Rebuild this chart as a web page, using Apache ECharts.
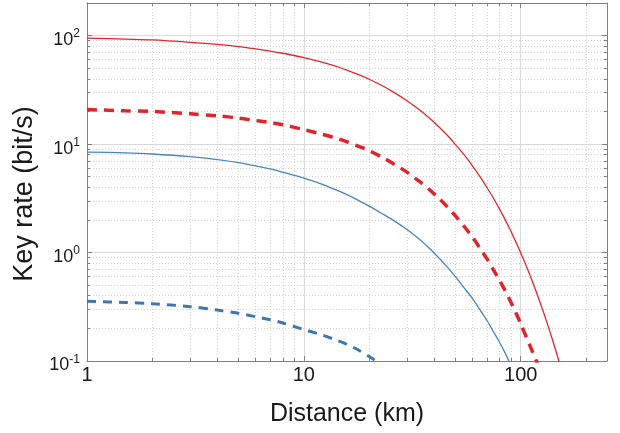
<!DOCTYPE html>
<html><head><meta charset="utf-8">
<script src="https://cdn.jsdelivr.net/npm/echarts@6/dist/echarts.min.js"></script>
<style>html,body{margin:0;padding:0;background:#fff}#c{width:620px;height:433px}</style>
</head><body><div id="c"></div>
<script>
// ---- data ----
const distances = [1, 1.5, 2, 3, 4, 5, 6, 7, 8, 10, 12, 14, 16, 18, 20, 23, 26, 30, 34, 38, 42, 46, 50, 55, 60, 65, 70, 75, 80, 85, 90, 95, 100, 110, 120, 130, 140, 150, 160];
const redSolidY  = [95, 92.8, 91.3, 86.8, 83, 79.3, 75.5, 72.1, 68.8, 62.8, 57.3, 52.3, 47.6, 43.4, 39.6, 34.5, 30, 25, 20.8, 17.3, 14.4, 12, 9.9, 7.9, 6.28, 4.99, 3.96, 3.15, 2.5, 1.99, 1.58, 1.25, 0.995, 0.628, 0.396, 0.25, 0.158, 0.1, 0.063];
const redDashY   = [20.8, 20.3, 20, 19, 18.2, 17.4, 16.5, 15.8, 15.1, 13.6, 12.4, 11.4, 10.4, 9.5, 8.7, 7.55, 6.57, 5.48, 4.55, 3.79, 3.15, 2.62, 2.18, 1.73, 1.38, 1.09, 0.87, 0.69, 0.55, 0.44, 0.35, 0.278, 0.22, 0.14, 0.092, 0.058, null, null, null];
const blueSolidY = [8.45, 8.3, 8.1, 7.65, 7.2, 6.75, 6.3, 5.9, 5.5, 4.85, 4.3, 3.8, 3.38, 3.0, 2.68, 2.28, 1.97, 1.62, 1.33, 1.09, 0.89, 0.73, 0.6, 0.47, 0.375, 0.295, 0.235, 0.185, 0.148, 0.117, 0.092, 0.072, null, null, null, null, null, null, null];
const blueDashY  = [0.355, 0.347, 0.338, 0.317, 0.295, 0.275, 0.256, 0.24, 0.224, 0.195, 0.175, 0.157, 0.141, 0.125, 0.11, 0.092, 0.078, null, null, null, null, null, null, null, null, null, null, null, null, null, null, null, null, null, null, null, null, null, null];

const xTickLabels = ['1', '10', '100'];          // exponents 0,1,2
const yTickBase = '10';
const yTickExponents = ['-1', '0', '1', '2'];    // exponents -1..2
const xMinorValues = [2,3,4,5,6,7,8,9,20,30,40,50,60,70,80,90,200];
const yMinorValues = [0.2,0.3,0.4,0.5,0.6,0.7,0.8,0.9,2,3,4,5,6,7,8,9,20,30,40,50,60,70,80,90];

const xName = 'Distance (km)';
const yName = 'Key rate (bit/s)';

// ---- rendering ----
const FONT = '"Liberation Sans", Arial, Helvetica, sans-serif';
const AXIS_COLOR = '#7f7f7f';
const TEXT_COLOR = '#1a1a1a';
const X_MIN = 1, X_MAX = 250, Y_MIN = 0.1, Y_MAX = 200;

function zip(xs, ys) { const out = []; xs.forEach((x, i) => { if (ys[i] != null) out.push([x, ys[i]]); }); return out; }
function pow10Exp(v) { const e = Math.log10(v); return Math.abs(e - Math.round(e)) < 1e-6 ? Math.round(e) : null; }

// minor tick length expressed as a ratio along the log scales (about 3px)
const KY = Math.pow(10, 3 / 109), KX = Math.pow(10, 3 / 217);
const minorGrid = [];
xMinorValues.forEach(v => minorGrid.push([{coord: [v, Y_MIN]}, {coord: [v, Y_MAX]}]));
yMinorValues.forEach(v => minorGrid.push([{coord: [X_MIN, v]}, {coord: [X_MAX, v]}]));
const minorTicks = [];
xMinorValues.forEach(v => {
  minorTicks.push([{coord: [v, Y_MIN]}, {coord: [v, Y_MIN * KY]}]);
  minorTicks.push([{coord: [v, Y_MAX]}, {coord: [v, Y_MAX / KY]}]);
});
yMinorValues.forEach(v => {
  minorTicks.push([{coord: [X_MIN, v]}, {coord: [X_MIN * KX, v]}]);
  minorTicks.push([{coord: [X_MAX, v]}, {coord: [X_MAX / KX, v]}]);
});

const axisLine = {show: true, lineStyle: {color: AXIS_COLOR, width: 1}};
const axisTick = {show: true, inside: true, length: 5, lineStyle: {color: AXIS_COLOR, width: 1}};

const chart = echarts.init(document.getElementById('c'), null, {renderer: 'canvas'});
chart.setOption({
  animation: false,
  backgroundColor: '#ffffff',
  grid: {left: 87, right: 13, top: 3, bottom: 72, containLabel: false, outerBoundsMode: 'none'},
  xAxis: [
    {
      type: 'log', logBase: 10, min: X_MIN, max: X_MAX, position: 'bottom',
      name: xName, nameLocation: 'middle', nameGap: 41,
      nameTextStyle: {fontSize: 25, color: TEXT_COLOR, fontFamily: FONT},
      axisLine, axisTick,
      axisLabel: {
        fontSize: 20, color: TEXT_COLOR, fontFamily: FONT, margin: 4,
        showMinLabel: true, showMaxLabel: true, hideOverlap: false,
        formatter: v => { const e = pow10Exp(v); return e === null ? '' : xTickLabels[e]; }
      },
      splitLine: {show: true, lineStyle: {color: '#dadada', width: 1}}
    },
    {
      type: 'log', logBase: 10, min: X_MIN, max: X_MAX, position: 'top',
      axisLine, axisTick, axisLabel: {show: false}, splitLine: {show: false}
    }
  ],
  yAxis: [
    {
      type: 'log', logBase: 10, min: Y_MIN, max: Y_MAX, position: 'left',
      name: yName, nameLocation: 'middle', nameGap: 48, nameRotate: 90,
      nameTextStyle: {fontSize: 27, color: TEXT_COLOR, fontFamily: FONT, padding: [0, 24, 0, 0]},
      axisLine, axisTick,
      axisLabel: {
        margin: 7, showMinLabel: true, showMaxLabel: true, hideOverlap: false, padding: [6, 0, 0, 0],
        formatter: v => { const e = pow10Exp(v); return e === null ? '' : '{b|' + yTickBase + '}{s|' + yTickExponents[e + 1] + '}'; },
        rich: {
          b: {fontSize: 18, color: TEXT_COLOR, fontFamily: FONT, lineHeight: 21, verticalAlign: 'bottom'},
          s: {fontSize: 12, color: TEXT_COLOR, fontFamily: FONT, lineHeight: 12, verticalAlign: 'top'}
        }
      },
      splitLine: {show: true, lineStyle: {color: '#dadada', width: 1}}
    },
    {
      type: 'log', logBase: 10, min: Y_MIN, max: Y_MAX, position: 'right',
      axisLine, axisTick, axisLabel: {show: false}, splitLine: {show: false}
    }
  ],
  series: [
    {
      name: 'grid', type: 'line', data: [], xAxisIndex: 0, yAxisIndex: 0, silent: true, z: 1,
      markLine: {
        silent: true, symbol: ['none', 'none'], label: {show: false}, z: 1, animation: false,
        lineStyle: {color: '#d2d2d2', width: 1, type: [1, 2]},
        emphasis: {disabled: true},
        data: minorGrid
      }
    },
    {
      name: 'ticks', type: 'line', data: [], xAxisIndex: 0, yAxisIndex: 0, silent: true, z: 3,
      markLine: {
        silent: true, symbol: ['none', 'none'], label: {show: false}, z: 3, animation: false,
        lineStyle: {color: AXIS_COLOR, width: 1, type: 'solid'},
        emphasis: {disabled: true},
        data: minorTicks
      }
    },
    {
      name: 'red solid', type: 'line', data: zip(distances, redSolidY), showSymbol: false, symbol: 'none',
      smooth: 0.3, clip: true, z: 4,
      lineStyle: {color: '#e3262d', width: 1.3}
    },
    {
      name: 'red dashed', type: 'line', data: zip(distances, redDashY), showSymbol: false, symbol: 'none',
      smooth: 0.3, clip: true, z: 4,
      lineStyle: {color: '#e0242c', width: 3.5, type: [10, 7]}
    },
    {
      name: 'blue solid', type: 'line', data: zip(distances, blueSolidY), showSymbol: false, symbol: 'none',
      smooth: 0.3, clip: true, z: 4,
      lineStyle: {color: '#4a84bb', width: 1.3}
    },
    {
      name: 'blue dashed', type: 'line', data: zip(distances, blueDashY), showSymbol: false, symbol: 'none',
      smooth: 0.3, clip: true, z: 4,
      lineStyle: {color: '#3f78ae', width: 3, type: [9, 7]}
    }
  ]
});
</script>
</body></html>
